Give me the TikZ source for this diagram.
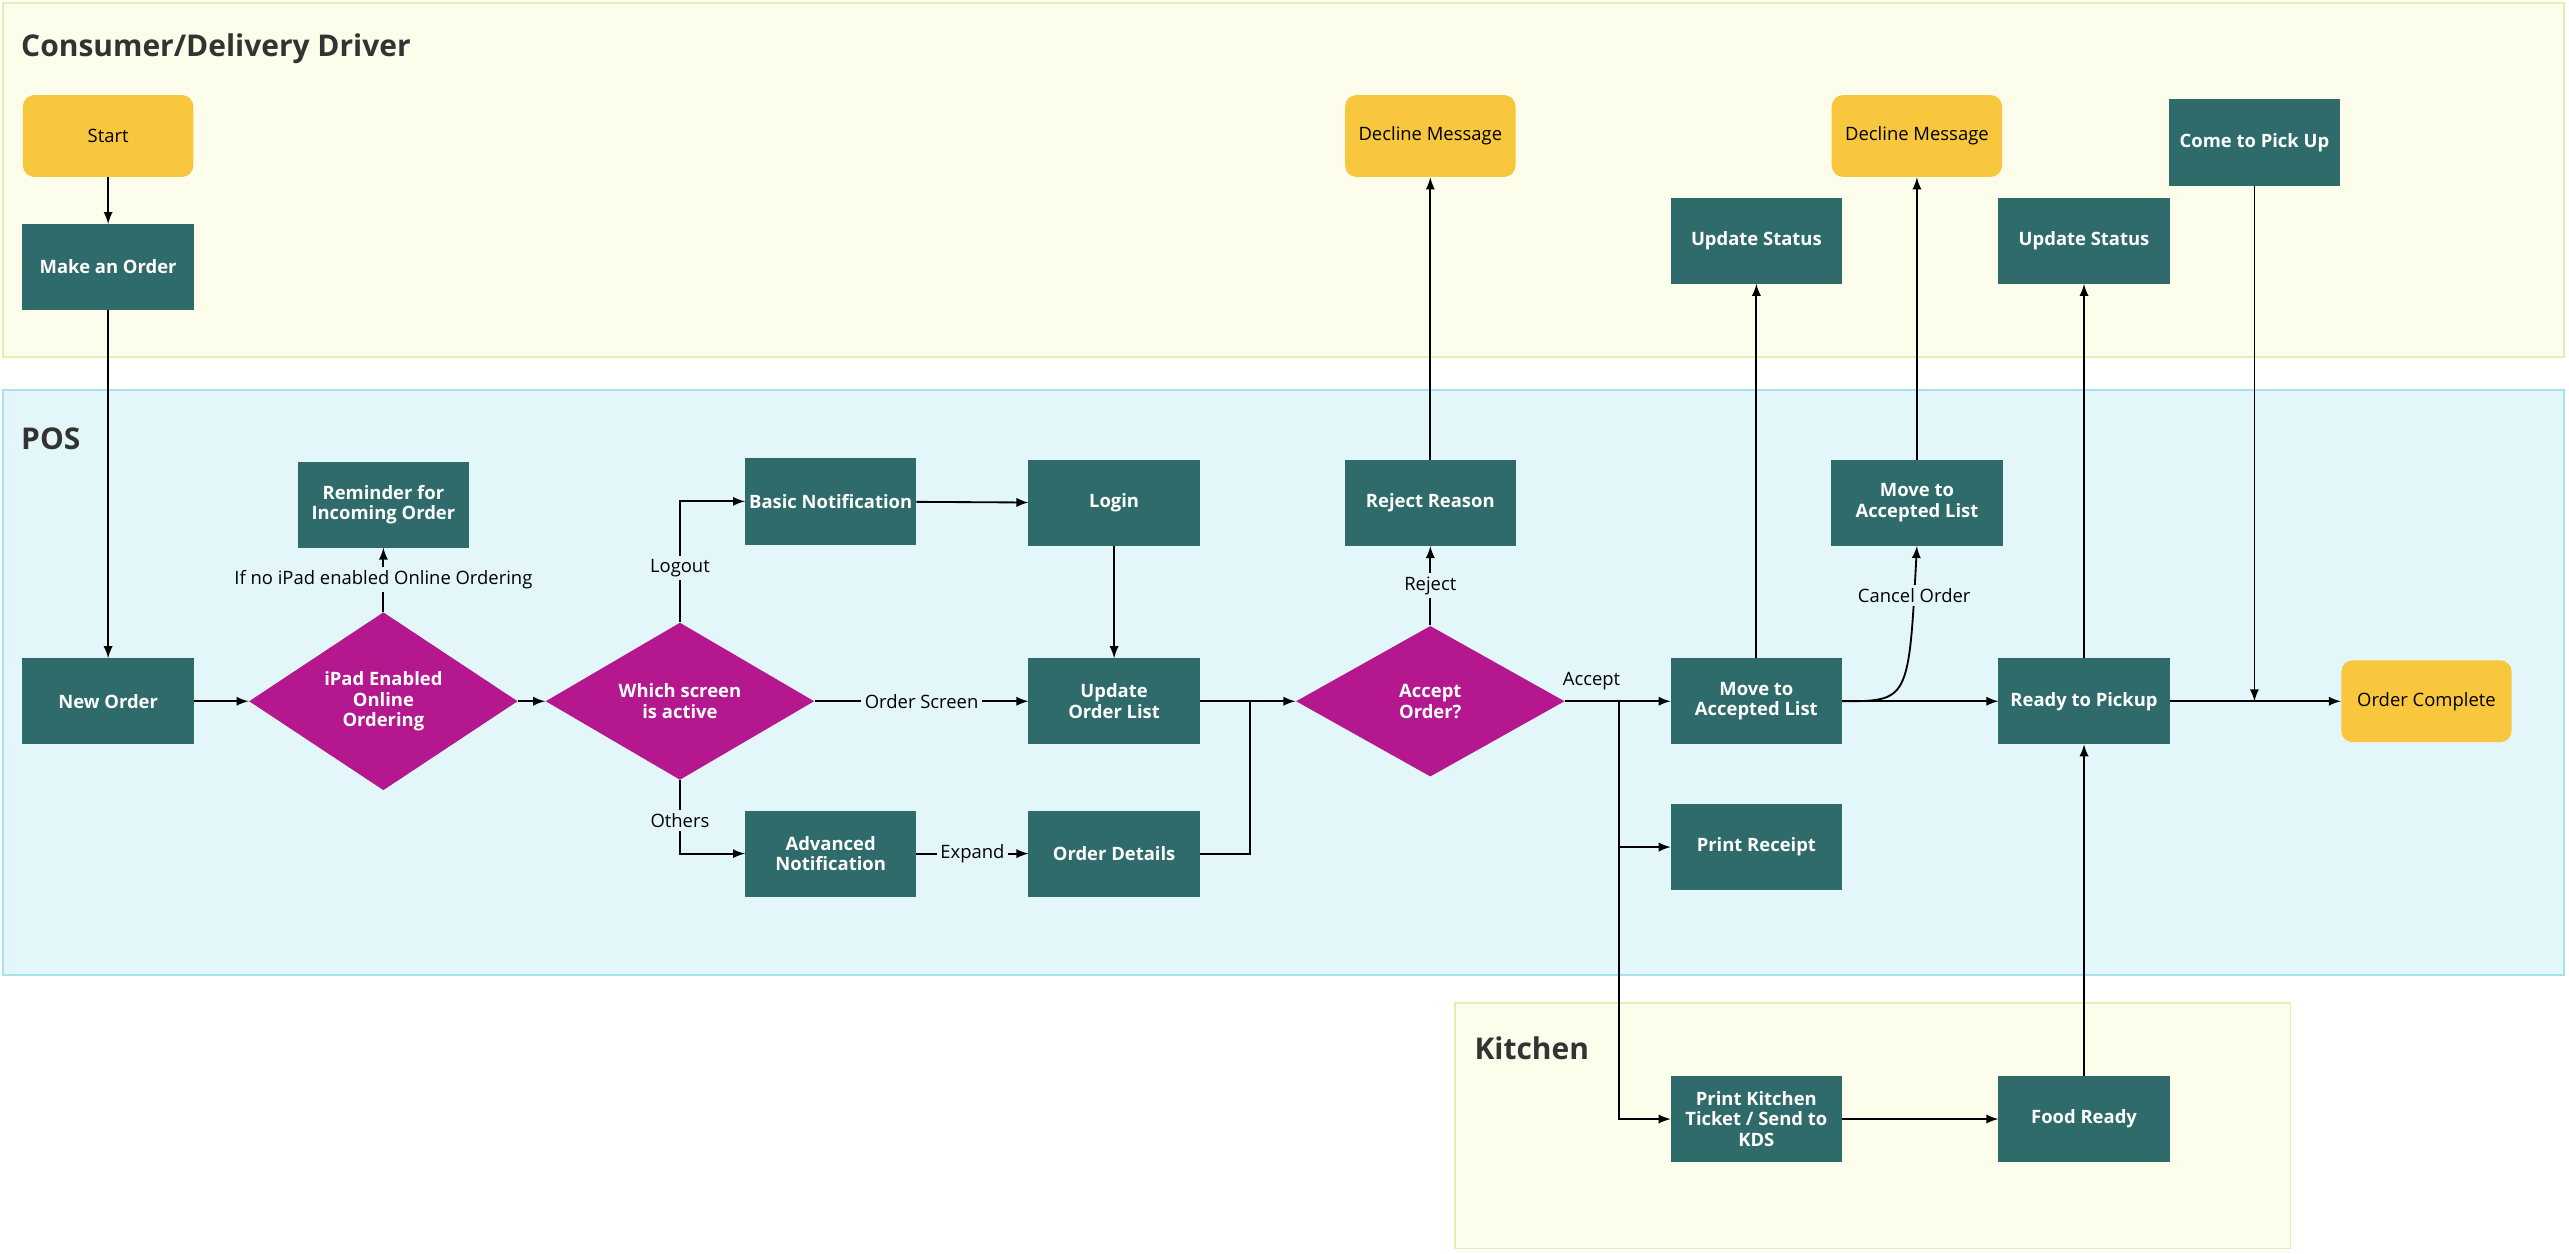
\documentclass[tikz,border=0pt]{standalone}
\usepackage{fontspec}
\setmainfont{Open Sans}
\usetikzlibrary{shapes.geometric}
\definecolor{teal}{HTML}{2F6B6B}
\definecolor{mag}{HTML}{B5178E}
\definecolor{gold}{HTML}{F8C73D}
\definecolor{laneY}{HTML}{FDFDEB}
\definecolor{laneYb}{HTML}{E6ECB2}
\definecolor{laneB}{HTML}{E3F7FA}
\definecolor{laneBb}{HTML}{A6E2EC}
\tikzset{
  box/.style={draw=teal, fill=teal, text=white, font=\bfseries\fontsize{8}{9}\selectfont,
    minimum width=2.6cm, minimum height=1.3cm, align=center, inner sep=1pt},
  term/.style={fill=gold, rounded corners=5pt, font=\fontsize{8}{9}\selectfont,
    minimum width=2.6cm, minimum height=1.25cm, align=center},
  dec/.style={diamond, fill=mag, text=white, font=\bfseries\fontsize{8}{9}\selectfont,
    minimum width=4.1cm, minimum height=2.3cm, inner sep=0pt, align=center},
  lbl/.style={font=\fontsize{8}{9}\selectfont, fill=laneB, inner sep=1.5pt},
  lane/.style={line width=0.8pt},
  ttl/.style={anchor=west, font=\bfseries\fontsize{13}{15}\selectfont, text=black!80},
  arr/.style={-latex, line width=0.8pt}
}
\begin{document}
\begin{tikzpicture}[x=0.025cm, y=-0.025cm]
  \useasboundingbox (0,0) rectangle (1568,765);

  % lanes
  \draw[lane, fill=laneY, draw=laneYb] (2,2) rectangle (1565,218);
  \draw[lane, fill=laneB, draw=laneBb] (2,238) rectangle (1565,595);
  \draw[lane, fill=laneY, draw=laneYb] (888,612) rectangle (1398,762);
  \node[ttl] at (8,30) {Consumer/Delivery Driver};
  \node[ttl] at (8,268) {POS};
  \node[ttl] at (895,640) {Kitchen};

  % consumer
  \node[term] (start) at (66,83) {Start};
  \node[box] (make) at (66,163) {Make an Order};
  \node[term] (dec1) at (873,83) {Decline Message};
  \node[term] (dec2) at (1170,83) {Decline Message};
  \node[box] (stat1) at (1072,147) {Update Status};
  \node[box] (stat2) at (1272,147) {Update Status};
  \node[box] (come) at (1376,87) {Come to Pick Up};

  % POS
  \node[box] (new) at (66,428) {New Order};
  \node[dec] (ipad) at (234,428) {iPad Enabled\\Online\\Ordering};
  \node[box] (remind) at (234,308) {Reminder for\\Incoming Order};
  \node[dec] (screen) at (415,428) {Which screen\\is active};
  \node[box] (basic) at (507,306) {Basic Notification};
  \node[box] (login) at (680,307) {Login};
  \node[box] (list) at (680,428) {Update\\Order List};
  \node[box] (adv) at (507,521) {Advanced\\Notification};
  \node[box] (det) at (680,521) {Order Details};
  \node[dec] (accept) at (873,428) {Accept\\Order?};
  \node[box] (reject) at (873,307) {Reject Reason};
  \node[box] (move) at (1072,428) {Move to\\Accepted List};
  \node[box] (move2) at (1170,307) {Move to\\Accepted List};
  \node[box] (receipt) at (1072,517) {Print Receipt};
  \node[box] (ready) at (1272,428) {Ready to Pickup};
  \node[term] (done) at (1481,428) {Order Complete};

  % kitchen
  \node[box] (ticket) at (1072,683) {Print Kitchen\\Ticket / Send to\\KDS};
  \node[box] (food) at (1272,683) {Food Ready};

  % helper points
  \coordinate (join) at (763,428);
  \coordinate (fork) at (988,428);
  \coordinate (pick) at (1376,428);

  % connectors
  \draw[arr] (start) -- (make);
  \draw[arr] (make) -- (new);
  \draw[arr] (new) -- (ipad);
  \draw[arr] (ipad) -- node[lbl] {If no iPad enabled Online Ordering} (remind);
  \draw[arr] (ipad) -- (screen);
  \draw[arr] (screen.north) -- node[lbl, pos=0.45] {Logout} (screen.north |- basic) -- (basic);
  \draw[arr] (screen.south) -- node[lbl, pos=0.55] {Others} (screen.south |- adv) -- (adv);
  \draw[arr] (screen) -- node[lbl] {Order Screen} (list);
  \draw[arr] (basic) -- (login);
  \draw[arr] (login) -- (list);
  \draw[arr] (adv) -- node[lbl] {Expand} (det);
  \draw[line width=0.8pt] (list) -- (join);
  \draw[line width=0.8pt] (det) -| (join);
  \draw[arr] (join) -- (accept);
  \draw[arr] (accept) -- node[lbl] {Reject} (reject);
  \draw[arr] (reject) -- (dec1);
  \draw[arr] (accept) -- node[font=\fontsize{8}{9}\selectfont, pos=0.25, above=1pt] {Accept} (move);
  \draw[arr] (fork) |- (receipt);
  \draw[arr] (fork) |- (ticket);
  \draw[arr] (move) -- (stat1);
  \draw[arr] (move) -- (ready);
  \draw[arr] (move.east) .. controls (1165,428) .. node[lbl, pos=0.88] {Cancel Order} (move2.south);
  \draw[arr] (move2) -- (dec2);
  \draw[arr] (ticket) -- (food);
  \draw[arr] (food) -- (ready);
  \draw[arr] (ready) -- (stat2);
  \draw[arr] (ready) -- (done);
  \draw[arr] (come) -- (pick);
\end{tikzpicture}
\end{document}
